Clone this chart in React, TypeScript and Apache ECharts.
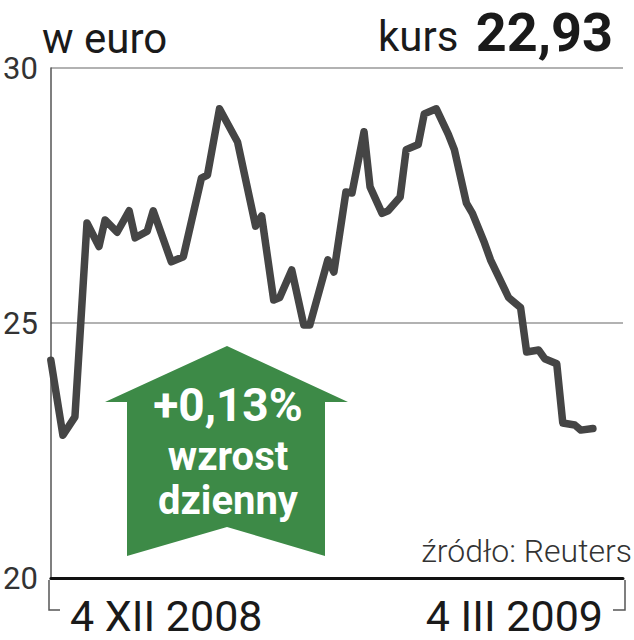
import React, { useEffect, useRef } from "react";
import * as echarts from "echarts";

// calendar day offset from 4 XII 2008
const days = [0, 2, 4, 6, 8, 9, 11, 13, 14, 16, 17, 20, 22, 25, 26, 28, 31, 34, 35, 37, 38, 40, 42, 43, 46, 47, 49, 50, 52, 53, 55, 56, 58, 59, 61, 62, 64, 66, 67, 69, 70, 72, 73, 76, 78, 79, 81, 82, 84, 85, 87, 88, 90];
const prices = [24.27, 22.8, 23.16, 26.96, 26.5, 27.02, 26.78, 27.2, 26.67, 26.8, 27.2, 26.2, 26.3, 27.84, 27.9, 29.2, 28.55, 26.9, 27.1, 25.45, 25.5, 26.04, 24.96, 24.96, 26.24, 26.0, 27.57, 27.55, 28.75, 27.67, 27.15, 27.2, 27.47, 28.4, 28.5, 29.1, 29.2, 28.7, 28.4, 27.35, 27.15, 26.57, 26.24, 25.5, 25.3, 24.43, 24.47, 24.3, 24.2, 23.04, 23.0, 22.9, 22.93];
const yTicks = [20, 25, 30];
const startLabel = "4 XII 2008";
const endLabel = "4 III 2009";
const unitLabel = "w euro";
const rateLabel = "kurs";
const rateValue = "22,93";
const changeLines = ["+0,13%", "wzrost", "dzienny"];
const sourceLabel = "źródło: Reuters";

export default function App() {
  const ref = useRef<HTMLDivElement>(null);
  useEffect(() => {
    const chart = echarts.init(ref.current!, null, { renderer: "svg" });
    const font = "Roboto";
    chart.setOption({
      animation: false,
      grid: { left: 48, right: 11, top: 68, bottom: 62, containLabel: false },
      xAxis: {
        type: "value",
        min: 0,
        max: 95,
        axisLine: { show: true, lineStyle: { color: "#111", width: 3 } },
        axisTick: { show: false },
        axisLabel: { show: false },
        splitLine: { show: false },
      },
      yAxis: {
        type: "value",
        min: yTicks[0],
        max: yTicks[yTicks.length - 1],
        interval: 5,
        axisLine: { show: true, lineStyle: { color: "#555", width: 1.5 } },
        axisTick: { show: false },
        axisLabel: { color: "#333", fontSize: 31, fontFamily: font, margin: 13 },
        splitLine: { show: true, lineStyle: { color: "#999", width: 1.5 } },
      },
      series: [
        {
          type: "line",
          data: days.map((d, i) => [d, prices[i]]),
          showSymbol: false,
          symbol: "none",
          z: 5,
          lineStyle: { color: "#454545", width: 7.5, join: "round", cap: "round" },
        },
      ],
      graphic: [
        {
          type: "polygon",
          z: 1,
          shape: {
            points: [
              [227, 346],
              [348, 402],
              [325, 402],
              [325, 556],
              [227, 527],
              [127, 556],
              [127, 402],
              [105, 402],
            ],
          },
          style: { fill: "#3d8a47" },
        },
        { type: "text", z: 2, style: { text: changeLines[0], x: 228, y: 405, fill: "#fff", font: `bold 46px ${font}`, textAlign: "center", textVerticalAlign: "middle" } },
        { type: "text", z: 2, style: { text: changeLines[1], x: 228, y: 456, fill: "#fff", font: `bold 40px ${font}`, textAlign: "center", textVerticalAlign: "middle" } },
        { type: "text", z: 2, style: { text: changeLines[2], x: 228, y: 500, fill: "#fff", font: `bold 40px ${font}`, textAlign: "center", textVerticalAlign: "middle" } },
        { type: "text", style: { text: unitLabel, x: 42, y: 38, fill: "#1a1a1a", font: `42px ${font}`, textAlign: "left", textVerticalAlign: "middle" } },
        { type: "text", style: { text: rateLabel, x: 378, y: 36, fill: "#1a1a1a", font: `42px ${font}`, textAlign: "left", textVerticalAlign: "middle" } },
        { type: "text", style: { text: rateValue, x: 613, y: 32, fill: "#1a1a1a", font: `bold 54px ${font}`, textAlign: "right", textVerticalAlign: "middle" } },
        { type: "text", style: { text: sourceLabel, x: 632, y: 551, fill: "#333", font: `300 32px ${font}`, textAlign: "right", textVerticalAlign: "middle" } },
        { type: "text", style: { text: startLabel, x: 70, y: 616, fill: "#1a1a1a", font: `43px ${font}`, textAlign: "left", textVerticalAlign: "middle" } },
        { type: "text", style: { text: endLabel, x: 603, y: 616, fill: "#1a1a1a", font: `43px ${font}`, textAlign: "right", textVerticalAlign: "middle" } },
        { type: "polyline", shape: { points: [[49, 580], [49, 610], [60, 610]] }, style: { stroke: "#555", lineWidth: 1.5, fill: null } },
        { type: "polyline", shape: { points: [[625, 580], [625, 610], [613, 610]] }, style: { stroke: "#555", lineWidth: 1.5, fill: null } },
      ],
    });
    return () => chart.dispose();
  }, []);
  return <div ref={ref} style={{ position: "absolute", left: 0, top: 0, width: 634, height: 640 }} />;
}
